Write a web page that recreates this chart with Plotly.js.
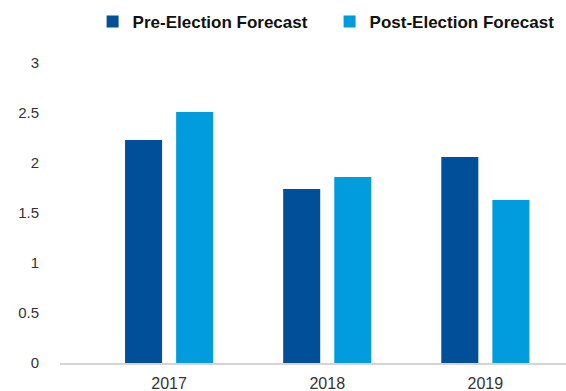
<!DOCTYPE html>
<html>
<head>
<meta charset="utf-8">
<script src="https://cdn.plot.ly/plotly-3.0.1.min.js"></script>
<style>html,body{margin:0;padding:0;background:#fff;}#chart{width:566px;height:391px;}</style>
</head>
<body>
<div id="chart"></div>
<script>
const years = ["2017", "2018", "2019"];
const preElection = [2.23, 1.74, 2.06];
const postElection = [2.51, 1.86, 1.63];
const yTicks = [0, 0.5, 1, 1.5, 2, 2.5, 3];
const yTickText = ["0", "0.5", "1", "1.5", "2", "2.5", "3"];

const font = "Liberation Sans, Arial, Helvetica, sans-serif";
const data = [
  {type: "bar", name: "<b>Pre-Election Forecast</b>", x: years, y: preElection, marker: {color: "#004F98"}, hoverinfo: "skip"},
  {type: "bar", name: "<b>Post-Election Forecast</b>", x: years, y: postElection, marker: {color: "#009CDE"}, hoverinfo: "skip"}
];
const layout = {
  width: 566, height: 391,
  margin: {l: 60, r: 0, t: 63, b: 28, pad: 0},
  paper_bgcolor: "#fff", plot_bgcolor: "#fff",
  font: {family: font, size: 15, color: "#333"},
  barmode: "group", bargap: 0.354, bargroupgap: 0.275,
  showlegend: true,
  legend: {orientation: "h", x: 0.1636, xanchor: "left", y: 0.944, yanchor: "middle", yref: "container", xref: "container",
           font: {family: font, size: 17, color: "#111"}, entrywidthmode: "pixels", entrywidth: 192,
           traceorder: "normal", itemclick: false},
  xaxis: {type: "category", range: [-0.69, 2.51], showgrid: false, zeroline: false,
          showline: true, linecolor: "#d4d4d4", linewidth: 1.5, ticks: "outside", ticklen: 5, tickcolor: "rgba(0,0,0,0)",
          tickfont: {size: 16, color: "#333"}},
  yaxis: {range: [0, 3], tickvals: yTicks, ticktext: yTickText, showgrid: false, zeroline: false, showline: false,
          ticks: "outside", ticklen: 17, tickcolor: "rgba(0,0,0,0)", tickfont: {size: 15, color: "#333"}}
};
Plotly.newPlot("chart", data, layout, {staticPlot: true, displayModeBar: false});
</script>
</body>
</html>
